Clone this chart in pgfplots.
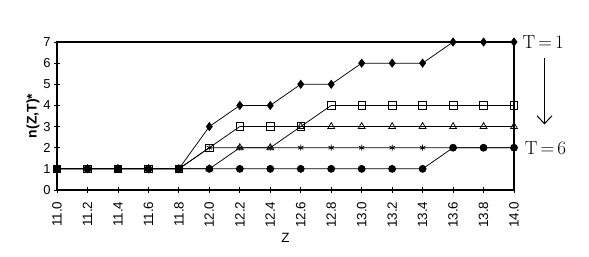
\documentclass[border=0pt]{standalone}
\usepackage{fontspec}
\setmainfont{Liberation Sans}
\newfontfamily\lmr{Latin Modern Roman}
\usepackage{pgfplots}
\pgfplotsset{compat=1.18}
\usetikzlibrary{arrows.meta}
\begin{document}
\begin{tikzpicture}[x=1bp,y=1bp]
\path (0,0) rectangle (589,256);
\begin{axis}[
  at={(57bp,66bp)}, anchor=south west,
  scale only axis, width=457bp, height=148bp,
  xmin=11, xmax=14, ymin=0, ymax=7,
  axis line style={line width=1.5bp},
  xtick={11,11.2,11.4,11.6,11.8,12,12.2,12.4,12.6,12.8,13,13.2,13.4,13.6,13.8,14},
  xticklabels={11.0,11.2,11.4,11.6,11.8,12.0,12.2,12.4,12.6,12.8,13.0,13.2,13.4,13.6,13.8,14.0},
  ytick={0,1,2,3,4,5,6,7},
  xtick pos=bottom, ytick pos=left,
  tick align=center, major tick length=6bp,
  tick style={black, line width=0.8bp},
  /pgf/number format/assume math mode=true,
  xticklabel shift=5bp,
  xticklabel style={rotate=90, anchor=east, font=\fontsize{13.5}{13.5}\selectfont},
  yticklabel style={font=\fontsize{13}{13}\selectfont},
  xlabel={Z}, xlabel style={font=\fontsize{13.5}{13.5}\selectfont, yshift=1bp},
  ylabel={\textbf{n(Z,T)*}}, ylabel style={font=\fontsize{14}{14}\selectfont, yshift=-3bp},
  clip=false,
  every axis plot/.append style={black, line width=0.75bp},
]
% T=1 filled diamonds
\addplot[mark=diamond*, mark size=4bp, mark options={fill=black}] coordinates {
(11.0,1)(11.2,1)(11.4,1)(11.6,1)(11.8,1)(12.0,3)(12.2,4)(12.4,4)(12.6,5)(12.8,5)(13.0,6)(13.2,6)(13.4,6)(13.6,7)(13.8,7)(14.0,7)};
% open squares
\addplot[mark=square, mark size=3.8bp, mark options={fill=white}] coordinates {
(11.0,1)(11.2,1)(11.4,1)(11.6,1)(11.8,1)(12.0,2)(12.2,3)(12.4,3)(12.6,3)(12.8,4)(13.0,4)(13.2,4)(13.4,4)(13.6,4)(13.8,4)(14.0,4)};
% open triangles
\addplot[mark=triangle, mark size=4bp, mark options={fill=white}] coordinates {
(11.0,1)(11.2,1)(11.4,1)(11.6,1)(11.8,1)(12.0,1)(12.2,2)(12.4,2)(12.6,3)(12.8,3)(13.0,3)(13.2,3)(13.4,3)(13.6,3)(13.8,3)(14.0,3)};
% asterisks
\addplot[mark=asterisk, mark size=3bp] coordinates {
(11.0,1)(11.2,1)(11.4,1)(11.6,1)(11.8,1)(12.0,2)(12.2,2)(12.4,2)(12.6,2)(12.8,2)(13.0,2)(13.2,2)(13.4,2)(13.6,2)(13.8,2)(14.0,2)};
% T=6 filled circles
\addplot[mark=*, mark size=3.5bp, mark options={fill=black}] coordinates {
(11.0,1)(11.2,1)(11.4,1)(11.6,1)(11.8,1)(12.0,1)(12.2,1)(12.4,1)(12.6,1)(12.8,1)(13.0,1)(13.2,1)(13.4,1)(13.6,2)(13.8,2)(14.0,2)};
\node[anchor=west, inner sep=0pt, font=\lmr\fontsize{19}{19}\selectfont] at (axis cs:14.055,7) {T\,=\,1};
\node[anchor=west, inner sep=0pt, font=\lmr\fontsize{19}{19}\selectfont] at (axis cs:14.07,2) {T\,=\,6};
\draw[line width=1bp, -{Straight Barb[length=8bp,width=15bp]}] (axis cs:14.2,6.25) -- (axis cs:14.2,3.1);
\end{axis}
\end{tikzpicture}
\end{document}
